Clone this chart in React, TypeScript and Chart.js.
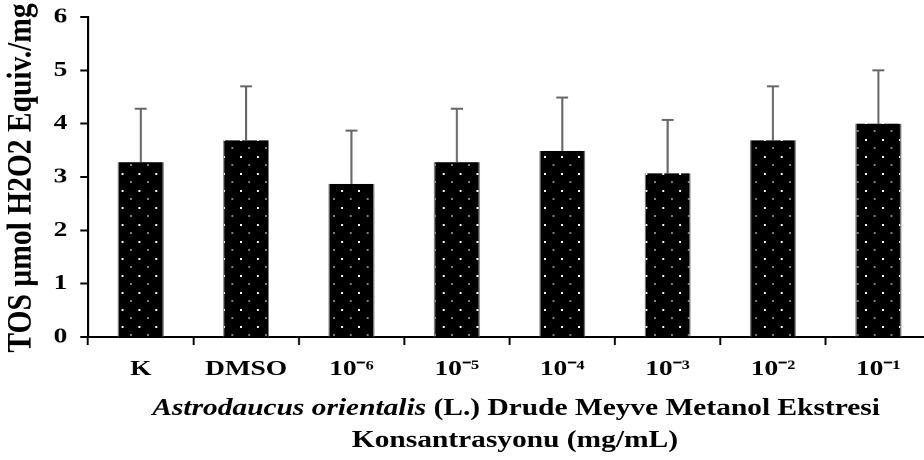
import React, { useEffect, useRef } from "react";
import { Chart, registerables } from "chart.js";

Chart.register(...registerables);

const categories = ["K", "DMSO", "10⁻⁶", "10⁻⁵", "10⁻⁴", "10⁻³", "10⁻²", "10⁻¹"];
const meanValues = [3.28, 3.69, 2.87, 3.28, 3.49, 3.07, 3.69, 4.0];
const errorValues = [1.0, 1.01, 1.0, 1.0, 1.0, 1.0, 1.01, 1.0];
const yTickValues = [0, 1, 2, 3, 4, 5, 6];
const yAxisTitle = "TOS µmol H2O2 Equiv./mg";
const xTitleItalic = "Astrodaucus orientalis";
const xTitleRest = " (L.) Drude Meyve Metanol Ekstresi";
const xTitleLine2 = "Konsantrasyonu (mg/mL)";

const SX = 1.3; // horizontal stretch of the reference picture
const FONT = "'Liberation Serif', 'Times New Roman', serif";
const W = 730;
const H = 460;

function makePattern(ctx: CanvasRenderingContext2D): CanvasPattern | string {
  const c = document.createElement("canvas");
  c.width = 26;
  c.height = 34;
  const p = c.getContext("2d");
  if (!p) return "#000";
  p.fillStyle = "#000";
  p.fillRect(0, 0, 26, 34);
  p.fillStyle = "#fff";
  p.fillRect(5, 6, 3, 4);
  p.fillRect(18, 23, 3, 2);
  const pat = ctx.createPattern(c, "repeat");
  if (!pat) return "#000";
  try {
    pat.setTransform(new DOMMatrix().scale(0.5, 0.5));
  } catch (e) {}
  return pat;
}

const errorBarPlugin = {
  id: "errorBars",
  afterDatasetsDraw(chart: any) {
    const ctx = chart.ctx;
    const meta = chart.getDatasetMeta(0);
    const y = chart.scales.y;
    ctx.save();
    ctx.strokeStyle = "#676767";
    meta.data.forEach((el: any, i: number) => {
      const top = y.getPixelForValue(meanValues[i] + errorValues[i]);
      ctx.lineWidth = 1.6;
      ctx.beginPath();
      ctx.moveTo(el.x, el.y);
      ctx.lineTo(el.x, top);
      ctx.stroke();
      ctx.lineWidth = 2;
      ctx.beginPath();
      ctx.moveTo(el.x - 4.6, top);
      ctx.lineTo(el.x + 4.6, top);
      ctx.stroke();
    });
    ctx.restore();
  },
};

const titlePlugin = {
  id: "customTitles",
  afterDraw(chart: any) {
    const ctx = chart.ctx;
    // y title
    ctx.save();
    ctx.fillStyle = "#000";
    ctx.font = `bold 29.5px ${FONT}`;
    ctx.textAlign = "center";
    ctx.textBaseline = "middle";
    ctx.translate(17, 178);
    ctx.scale(0.88, 1);
    ctx.rotate(-Math.PI / 2);
    ctx.fillText(yAxisTitle, 0, 0);
    ctx.restore();

    // x title
    ctx.save();
    ctx.fillStyle = "#000";
    ctx.textBaseline = "alphabetic";
    ctx.textAlign = "left";
    const cx = 397;
    ctx.translate(cx, 0);
    ctx.scale(0.943, 1);
    ctx.font = `italic bold 24px ${FONT}`;
    const w1 = ctx.measureText(xTitleItalic).width;
    ctx.font = `bold 24px ${FONT}`;
    const w2 = ctx.measureText(xTitleRest).width;
    const start = -(w1 + w2) / 2;
    ctx.font = `italic bold 24px ${FONT}`;
    ctx.fillText(xTitleItalic, start, 415);
    ctx.font = `bold 24px ${FONT}`;
    ctx.fillText(xTitleRest, start + w1, 415);
    ctx.textAlign = "center";
    ctx.fillText(xTitleLine2, -1, 447);
    ctx.restore();
  },
};

export default function App() {
  const ref = useRef<HTMLCanvasElement>(null);

  useEffect(() => {
    const canvas = ref.current;
    if (!canvas) return;
    const ctx = canvas.getContext("2d");
    if (!ctx) return;
    const pattern = makePattern(ctx);
    const chart = new Chart(canvas, {
      type: "bar",
      data: {
        labels: categories,
        datasets: [
          {
            data: meanValues,
            backgroundColor: pattern as any,
            borderColor: "#7a7a7a",
            borderWidth: { left: 1, right: 1, top: 0, bottom: 0 } as any,
            borderSkipped: false,
            barPercentage: 0.437,
            categoryPercentage: 1,
          },
        ],
      },
      options: {
        animation: false,
        responsive: false,
        devicePixelRatio: 2,
        layout: { padding: { top: 17, right: W - 716.2, left: 0, bottom: 0 } },
        plugins: {
          legend: { display: false },
          tooltip: { enabled: false },
          title: { display: false },
        },
        scales: {
          x: {
            offset: true,
            grid: {
              offset: true,
              drawOnChartArea: false,
              drawTicks: true,
              tickLength: 8,
              tickColor: "#000",
              tickWidth: 1.5,
            },
            border: { color: "#000", width: 2 },
            ticks: {
              color: "#000",
              font: { family: FONT, size: 21, weight: "bold" },
              padding: 12,
              maxRotation: 0,
              autoSkip: false,
            },
            afterFit(scale: any) {
              scale.height = H - 337;
              scale.paddingLeft = 0;
              scale.paddingRight = 0;
            },
          },
          y: {
            min: 0,
            max: 6,
            afterBuildTicks(scale: any) {
              scale.ticks = yTickValues.map((v) => ({ value: v }));
            },
            grid: {
              drawOnChartArea: false,
              drawTicks: true,
              tickLength: 6,
              tickColor: "#000",
              tickWidth: 2,
            },
            border: { color: "#000", width: 1.6 },
            ticks: {
              color: "#000",
              font: { family: FONT, size: 21, weight: "bold" },
              padding: 10,
            },
            afterFit(scale: any) {
              scale.width = 67.7;
              scale.paddingTop = 0;
              scale.paddingBottom = 0;
            },
          },
        },
      },
      plugins: [errorBarPlugin, titlePlugin],
    });
    return () => chart.destroy();
  }, []);

  return (
    <div
      style={{
        position: "absolute",
        left: 0,
        top: 0,
        width: 924,
        height: 460,
        overflow: "hidden",
        background: "#fff",
      }}
    >
      <canvas
        ref={ref}
        width={W}
        height={H}
        style={{
          width: W,
          height: H,
          transform: `scaleX(${SX})`,
          transformOrigin: "0 0",
          display: "block",
        }}
      />
    </div>
  );
}
